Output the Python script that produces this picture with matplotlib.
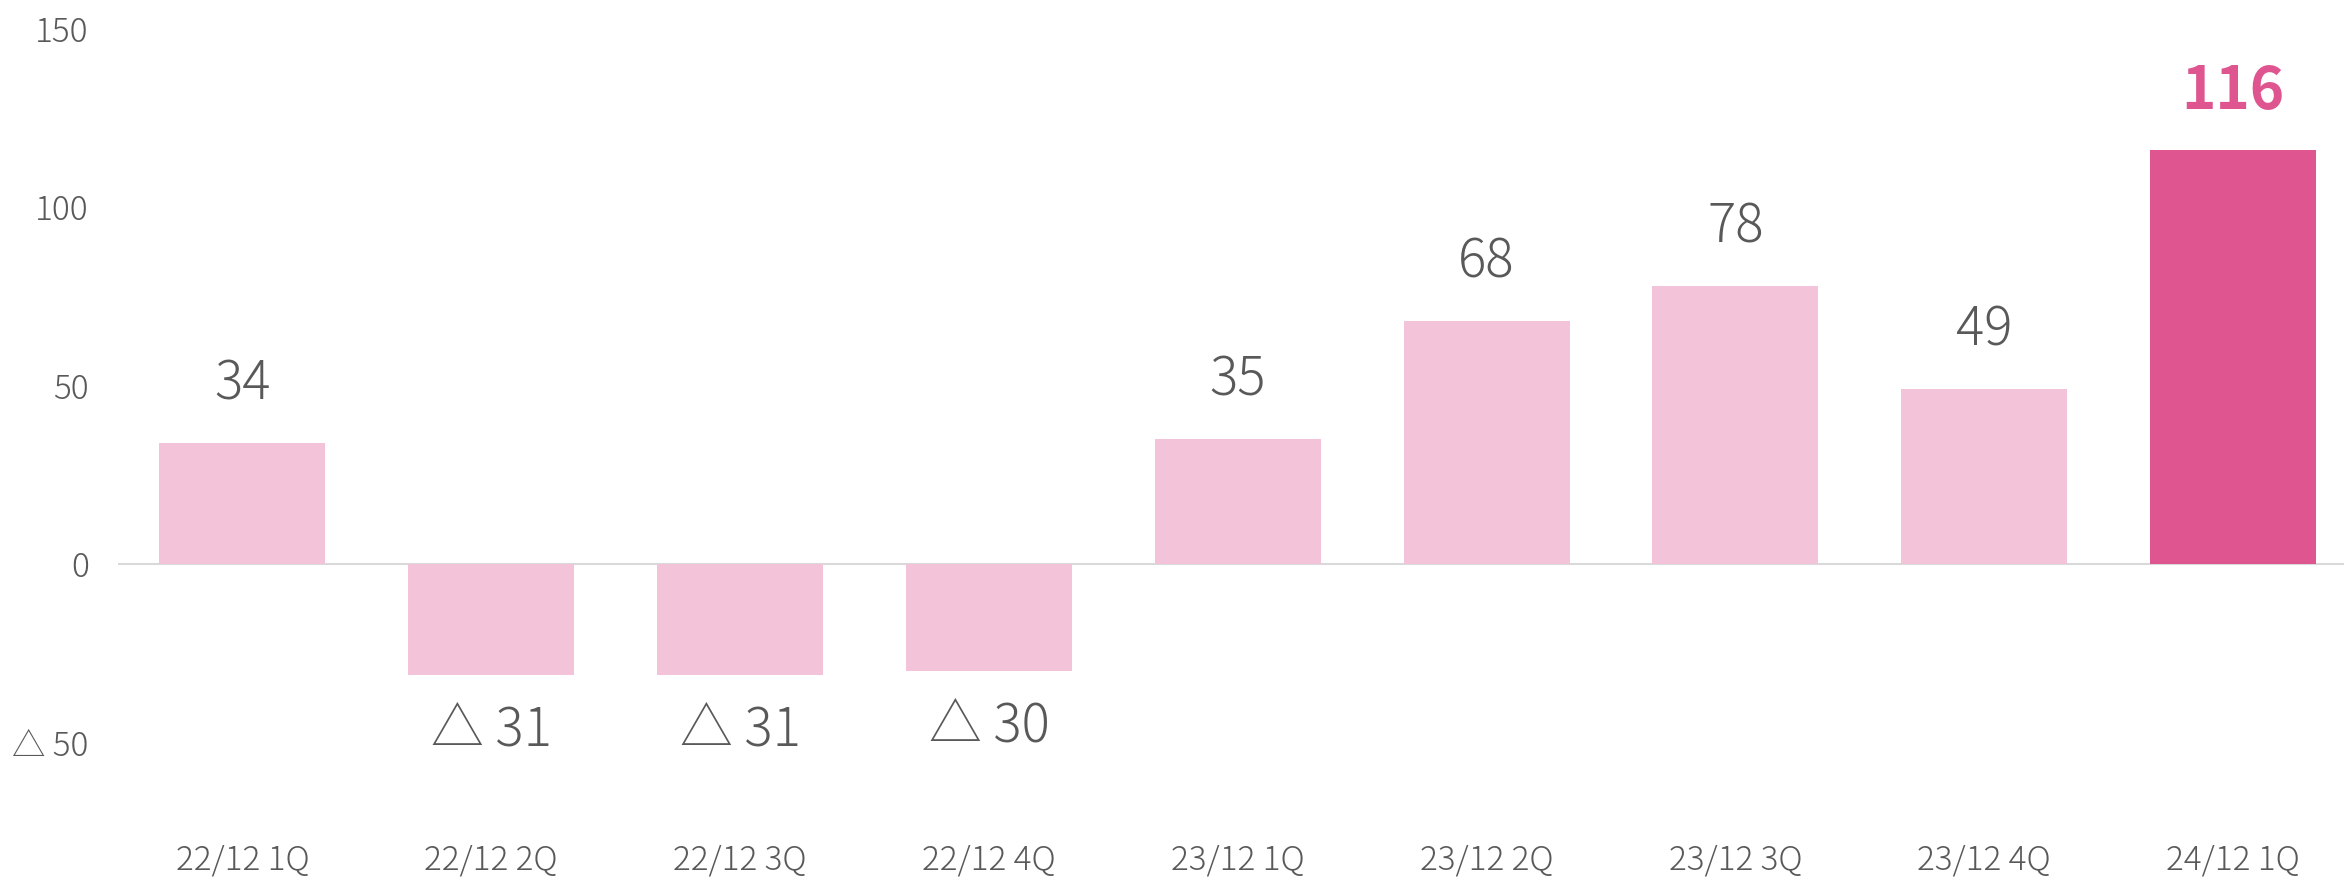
import matplotlib
matplotlib.use("Agg")
import matplotlib.pyplot as plt

# ── data ────────────────────────────────────────────────
quarters = ["22/12 1Q", "22/12 2Q", "22/12 3Q", "22/12 4Q",
            "23/12 1Q", "23/12 2Q", "23/12 3Q", "23/12 4Q", "24/12 1Q"]
values = [34, -31, -31, -30, 35, 68, 78, 49, 116]
y_ticks = [-50, 0, 50, 100, 150]

LIGHT = "#F3C3D9"
DARK = "#DF5590"
GRAY = "#595959"

plt.rcParams["font.family"] = ["Noto Sans CJK JP", "DejaVu Sans"]


def fmt(v):
    # 負の値は △ 表記
    return f"△ {abs(v)}" if v < 0 else f"{v}"


fig = plt.figure(figsize=(23.44, 8.82), dpi=100)
W, H = 2344, 882
ax = fig.add_axes([118 / W, (H - 832) / H, (W - 118) / W, (832 - 28.5) / H])

x = list(range(len(values)))
colors = [LIGHT] * (len(values) - 1) + [DARK]
ax.bar(x, values, width=0.667, color=colors, zorder=2)
ax.axhline(0, color="#D9D9D9", lw=1.5, zorder=1)

for i, v in enumerate(values):
    last = i == len(values) - 1
    ax.annotate(fmt(v), (i, v), xytext=(0, 42 if v >= 0 else -40),
                textcoords="offset points", ha="center", va="center",
                fontsize=42 if last else 38,
                fontweight="bold" if last else "light",
                color=DARK if last else GRAY)

ax.set_xlim(-0.5, 8.446)
ax.set_ylim(-75, 150)
ax.set_yticks(y_ticks)
ax.set_yticklabels([fmt(t) for t in y_ticks], fontsize=24, color=GRAY,
                   fontweight="light")
ax.set_xticks(x)
ax.set_xticklabels(quarters, fontsize=24, color=GRAY, fontweight="light")
ax.tick_params(axis="both", length=0)
ax.tick_params(axis="y", pad=21)
ax.tick_params(axis="x", pad=8)
for s in ax.spines.values():
    s.set_visible(False)

fig.savefig("out.png", dpi=100, facecolor="white")
